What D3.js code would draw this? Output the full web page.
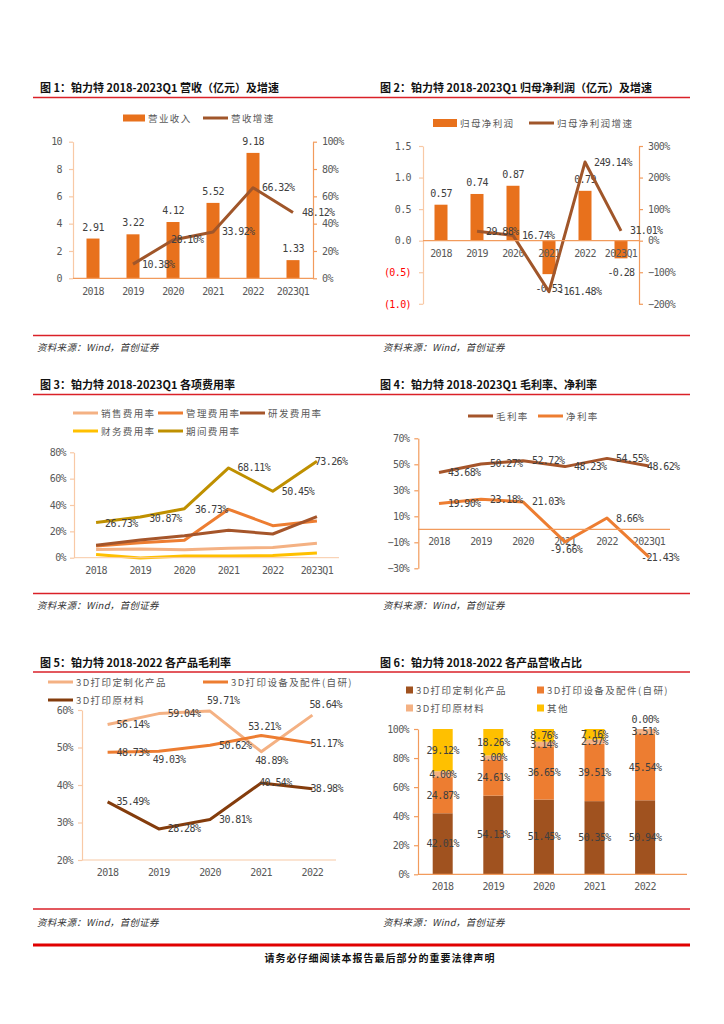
<!DOCTYPE html>
<html><head><meta charset="utf-8">
<script src="https://cdn.jsdelivr.net/npm/d3@7"></script>
<style>body{margin:0;background:#fff}svg{display:block}</style>
</head><body><svg id="page" width="724" height="1024"></svg>
<script>
// ---------- DATA ----------
const years6 = ['2018','2019','2020','2021','2022','2023Q1'];
const years5 = ['2018','2019','2020','2021','2022'];
const revenue = [2.91,3.22,4.12,5.52,9.18,1.33];
const revenueGrowth = [null,10.38,28.10,33.92,66.32,48.12];
const netProfit = [0.57,0.74,0.87,-0.53,0.79,-0.28];
const netProfitGrowth = [null,29.88,16.74,-161.48,249.14,31.01];
const sellingRate = [6.3,6.6,6.1,7.1,7.8,10.9];
const adminRate = [8.8,11.4,13.2,36.73,24.3,27.8];
const rdRate = [9.4,13.4,16.7,20.8,18.0,31.1];
const financeRate = [2.5,-0.3,1.2,1.3,1.6,3.6];
const periodRate = [26.73,30.87,37.2,68.11,50.45,73.26];
const grossMargin = [43.68,50.27,52.72,48.23,54.55,48.62];
const netMargin = [19.90,23.18,21.03,-9.66,8.66,-21.43];
const gmCustom = [56.14,59.04,59.71,48.89,58.64];
const gmEquip = [48.73,49.03,50.62,53.21,51.17];
const gmMaterial = [35.49,28.28,30.81,40.54,38.98];
const shareCustom = [42.01,54.13,51.45,50.35,50.94];
const shareEquip = [24.87,24.61,36.65,39.51,45.54];
const shareMaterial = [4.00,3.00,3.14,2.97,3.51];
const shareOther = [29.12,18.26,8.76,7.16,0.00];
const ticks1L = [0,2,4,6,8,10];
const ticks1R = [0,20,40,60,80,100];
const ticks2L = [-1,-0.5,0,0.5,1,1.5];
const ticks2R = [-200,-100,0,100,200,300];
const ticks3 = [0,20,40,60,80];
const ticks4 = [-30,-10,10,30,50,70];
const ticks5 = [20,30,40,50,60];
const ticks6 = [0,20,40,60,80,100];

// ---------- STYLE ----------
const NUMF = "'DejaVu Sans Mono', monospace";
const CJKF = "'Noto Sans CJK SC', sans-serif";
const RED = '#DA2128';
const C = {bar:'#E8711C', brown:'#A0562A', peach:'#F4B183', orange:'#ED7D31', rd:'#A5552A',
  yellow:'#FFC000', gold:'#BF9000', dark:'#843C0C', axis:'#F29B5C', axisLight:'#F8C9A6', stackDark:'#A0521F'};

const svg = d3.select('#page');
svg.append('rect').attr('width',724).attr('height',1024).attr('fill','#fff');

function numText(g,x,y,s,anchor,color,size){
  return g.append('text').attr('x',x).attr('y',y).attr('text-anchor',anchor||'middle')
    .attr('font-family',NUMF).attr('font-size',size||10).attr('letter-spacing','-0.6')
    .attr('fill',color||'#404040').text(s);
}
function cjkText(g,x,y,s,opts){
  opts=opts||{};
  return g.append('text').attr('x',x).attr('y',y).attr('text-anchor',opts.anchor||'start')
    .attr('font-family',CJKF).attr('font-size',opts.size||9.5)
    .attr('font-weight',opts.weight||'normal').attr('letter-spacing',opts.ls==null?1.4:opts.ls)
    .attr('font-style',opts.style||'normal')
    .attr('fill',opts.color||'#595959').text(s);
}
function hline(x1,x2,y,color,w){svg.append('line').attr('x1',x1).attr('x2',x2).attr('y1',y).attr('y2',y).attr('stroke',color).attr('stroke-width',w);}
function styleAxis(sel,color,labelColor){
  sel.attr('font-family',NUMF).attr('font-size',10);
  sel.select('.domain').attr('stroke',color).attr('stroke-width',1.2);
  sel.selectAll('.tick line').attr('stroke',color).attr('stroke-width',1.2);
  sel.selectAll('.tick text').attr('letter-spacing','-0.6').attr('fill',labelColor||'#595959');
}
const pct0 = d => d3.format('d')(d)+'%';

// ---------- PAGE FRAME ----------
const titles = [
  [40,92,'图 1：铂力特 2018-2023Q1 营收（亿元）及增速'],
  [380,92,'图 2：铂力特 2018-2023Q1 归母净利润（亿元）及增速'],
  [40,389,'图 3：铂力特 2018-2023Q1 各项费用率'],
  [380,389,'图 4：铂力特 2018-2023Q1 毛利率、净利率'],
  [40,667,'图 5：铂力特 2018-2022 各产品毛利率'],
  [380,667,'图 6：铂力特 2018-2022 各产品营收占比']
];
titles.forEach(t=>cjkText(svg,t[0],t[1],t[2],{size:11,weight:'bold',color:'#111',ls:0}));
[97.5,394.5,672].forEach(y=>hline(33,690,y,RED,1.5));
[335.5,593.5,909].forEach(y=>hline(33,690,y,RED,1.5));
[[37,351],[383,351],[37,609],[383,609],[37,926],[383,926]].forEach(p=>
  cjkText(svg,p[0],p[1],'资料来源：Wind，首创证券',{size:9.5,style:'italic',color:'#333',ls:0.3}));
hline(33,690,945,'#E00000',3);
cjkText(svg,380,962,'请务必仔细阅读本报告最后部分的重要法律声明',{size:10,weight:'bold',color:'#111',ls:1,anchor:'middle'});

// label placement helper
function placeLabel(g,px,py,s,code){
  if(!code) return;
  const m = {r:[9,3.5,'start'], o:[-2,3.5,'start'], l:[-1,3.5,'end'], a:[-3,-7,'start'], b:[-6,12,'start'],
             bm:[1,11,'middle'], al:[-13,-5,'start'], ol:[-8,3.5,'start']}[code];
  numText(g,px+m[0],py+m[1],s,m[2]);
}
function drawLine(g,xf,yf,vals,color,w){
  g.append('path').datum(vals.map((v,i)=>[i,v]))
    .attr('d',d3.line().defined(d=>d[1]!=null).x(d=>xf(d[0])).y(d=>yf(d[1])))
    .attr('fill','none').attr('stroke',color).attr('stroke-width',w||3).attr('stroke-linejoin','round');
}
function legendLine(g,x,y,color,label){
  g.append('line').attr('x1',x).attr('x2',x+25).attr('y1',y).attr('y2',y).attr('stroke',color).attr('stroke-width',3);
  cjkText(g,x+28,y+3.5,label);
}
function legendRect(g,x,y,color,label,w,h){
  w=w||22;h=h||7;
  g.append('rect').attr('x',x).attr('y',y-h/2).attr('width',w).attr('height',h).attr('fill',color);
  cjkText(g,x+w+3,y+3.5,label);
}

// ---------- CHART 1 ----------
(function(){
  const g = svg.append('g');
  const x = d3.scaleBand().domain(years6).range([73,313]);
  const cx = i => x(years6[i])+x.bandwidth()/2;
  const yL = d3.scaleLinear().domain([0,10]).range([278.3,141.7]);
  const yR = d3.scaleLinear().domain([0,100]).range([278.3,141.7]);
  legendRect(g,123,118,C.bar,'营业收入');
  legendLine(g,203,118,C.brown,'营收增速');
  g.append('g').attr('transform','translate(73,0)').call(d3.axisLeft(yL).tickValues(ticks1L).tickSize(4).tickSizeOuter(0).tickPadding(7)).call(s=>styleAxis(s,C.axisLight));
  g.append('g').attr('transform','translate(313,0)').call(d3.axisRight(yR).tickValues(ticks1R).tickSize(4).tickSizeOuter(0).tickPadding(5).tickFormat(pct0)).call(s=>styleAxis(s,C.axis));
  g.selectAll('rect.b').data(revenue).join('rect').attr('class','b')
    .attr('x',(d,i)=>cx(i)-6.5).attr('y',d=>yL(d)).attr('width',13).attr('height',d=>yL(0)-yL(d)).attr('fill',C.bar);
  hline(73,313,278.3,C.axis,1.2);
  revenue.forEach((v,i)=>numText(g,cx(i),yL(v)-8,v.toFixed(2)));
  drawLine(g,cx,yR,revenueGrowth,C.brown,3);
  const pl=[null,'r','o','r','r','r'];
  revenueGrowth.forEach((v,i)=>{ if(v!=null) placeLabel(g,cx(i),yR(v),v.toFixed(2)+'%',pl[i]); });
  years6.forEach((c,i)=>numText(g,cx(i),295,c,'middle','#595959'));
})();

// ---------- CHART 2 ----------
(function(){
  const g = svg.append('g');
  const x = d3.scaleBand().domain(years6).range([423,639]);
  const cx = i => x(years6[i])+x.bandwidth()/2;
  const yL = d3.scaleLinear().domain([-1,1.5]).range([303.8,146]);
  const yR = d3.scaleLinear().domain([-200,300]).range([303.8,146]);
  legendRect(g,433,123,C.bar,'归母净利润',24,8);
  legendLine(g,529,123,C.brown,'归母净利润增速');
  const fmtL = d => d<0 ? '('+Math.abs(d).toFixed(1)+')' : d.toFixed(1);
  g.append('g').attr('transform','translate(423,0)').call(d3.axisLeft(yL).tickValues(ticks2L).tickSize(4).tickSizeOuter(0).tickPadding(8).tickFormat(fmtL))
    .call(s=>{styleAxis(s,C.axisLight); s.selectAll('.tick text').attr('fill',d=>d<0?'#FF0000':'#595959');});
  g.append('g').attr('transform','translate(639,0)').call(d3.axisRight(yR).tickValues(ticks2R).tickSize(4).tickSizeOuter(0).tickPadding(5).tickFormat(pct0)).call(s=>styleAxis(s,C.axis));
  g.selectAll('rect.b').data(netProfit).join('rect').attr('class','b')
    .attr('x',(d,i)=>cx(i)-6.5).attr('y',d=>yL(Math.max(0,d))).attr('width',13).attr('height',d=>Math.abs(yL(0)-yL(d))).attr('fill',C.bar);
  hline(423,639,yL(0),C.axis,1.2);
  years6.forEach((c,i)=>numText(g,cx(i),257,c,'middle','#595959'));
  netProfit.forEach((v,i)=>numText(g,cx(i),v>=0?yL(v)-8:yL(v)+18,v.toFixed(2)));
  drawLine(g,cx,yR,netProfitGrowth,C.brown,3);
  netProfitGrowth.forEach((v,i)=>{ if(v!=null) placeLabel(g,cx(i),yR(v),v.toFixed(2)+'%','r'); });
})();

// ---------- CHART 3 ----------
(function(){
  const g = svg.append('g');
  const x = d3.scaleBand().domain(years6).range([74,339]);
  const cx = i => x(years6[i])+x.bandwidth()/2;
  const y = d3.scaleLinear().domain([0,80]).range([557.7,452.3]);
  legendLine(g,73,413,C.peach,'销售费用率');
  legendLine(g,158,413,C.orange,'管理费用率');
  legendLine(g,240,413,C.rd,'研发费用率');
  legendLine(g,73,431,C.yellow,'财务费用率');
  legendLine(g,158,431,C.gold,'期间费用率');
  g.append('g').attr('transform','translate(74,0)').call(d3.axisLeft(y).tickValues(ticks3).tickSize(4).tickSizeOuter(0).tickPadding(4).tickFormat(pct0)).call(s=>styleAxis(s,C.axisLight));
  hline(74,339,557.7,C.axisLight,1);
  drawLine(g,cx,y,sellingRate,C.peach);
  drawLine(g,cx,y,adminRate,C.orange);
  drawLine(g,cx,y,rdRate,C.rd);
  drawLine(g,cx,y,financeRate,C.yellow);
  drawLine(g,cx,y,periodRate,C.gold);
  const plP=['r','r',null,'r','r','o'];
  periodRate.forEach((v,i)=>placeLabel(g,cx(i),y(v)+(i<2?1:0),v.toFixed(2)+'%',plP[i]));
  const plA=[null,null,null,'l',null,null];
  adminRate.forEach((v,i)=>placeLabel(g,cx(i),y(v),v.toFixed(2)+'%',plA[i]));
  years6.forEach((c,i)=>numText(g,cx(i),574,c,'middle','#595959'));
})();

// ---------- CHART 4 ----------
(function(){
  const g = svg.append('g');
  const x = d3.scaleBand().domain(years6).range([418,670]);
  const cx = i => x(years6[i])+x.bandwidth()/2;
  const y = d3.scaleLinear().domain([-30,70]).range([568.3,438.3]);
  legendLine(g,468,416,C.rd,'毛利率');
  legendLine(g,538,416,C.orange,'净利率');
  g.append('g').attr('transform','translate(418.3,0)').call(d3.axisLeft(y).tickValues(ticks4).tickSize(4).tickSizeOuter(0).tickPadding(5).tickFormat(pct0)).call(s=>styleAxis(s,C.axis));
  hline(418,670,y(0),C.axis,1.2);
  years6.forEach((c,i)=>numText(g,cx(i),545,c,'middle','#595959'));
  drawLine(g,cx,y,grossMargin,C.rd);
  drawLine(g,cx,y,netMargin,C.orange);
  const plG=['r','r','r','r','r','o'];
  grossMargin.forEach((v,i)=>placeLabel(g,cx(i),y(v),v.toFixed(2)+'%',plG[i]));
  const plN=['r','r','r','bm','r','ol'];
  netMargin.forEach((v,i)=>placeLabel(g,cx(i),y(v),v.toFixed(2)+'%',plN[i]));
})();

// ---------- CHART 5 ----------
(function(){
  const g = svg.append('g');
  const x = d3.scaleBand().domain(years5).range([82,338]);
  const cx = i => x(years5[i])+x.bandwidth()/2;
  const y = d3.scaleLinear().domain([20,60]).range([860,710]);
  legendLine(g,48,682,C.peach,'3D打印定制化产品');
  legendLine(g,203,682,C.orange,'3D打印设备及配件(自研)');
  legendLine(g,48,700,C.dark,'3D打印原材料');
  g.append('g').attr('transform','translate(82,0)').call(d3.axisLeft(y).tickValues(ticks5).tickSize(4).tickSizeOuter(0).tickPadding(5).tickFormat(pct0)).call(s=>styleAxis(s,C.axisLight));
  hline(82,336,860,C.axisLight,1.2);
  years5.forEach((c,i)=>numText(g,cx(i),876,c,'middle','#595959'));
  drawLine(g,cx,y,gmCustom,C.peach);
  drawLine(g,cx,y,gmEquip,C.orange);
  drawLine(g,cx,y,gmMaterial,C.dark);
  const pc=['r','r','a','b','a'], pe=['r','b','r','al','o'], pm=['r','r','r','o','o'];
  gmCustom.forEach((v,i)=>placeLabel(g,cx(i),y(v),v.toFixed(2)+'%',pc[i]));
  gmEquip.forEach((v,i)=>placeLabel(g,cx(i),y(v),v.toFixed(2)+'%',pe[i]));
  gmMaterial.forEach((v,i)=>placeLabel(g,cx(i),y(v),v.toFixed(2)+'%',pm[i]));
})();

// ---------- CHART 6 ----------
(function(){
  const g = svg.append('g');
  const x = d3.scaleBand().domain(years5).range([417.4,670.4]);
  const cx = i => x(years5[i])+x.bandwidth()/2;
  const y = d3.scaleLinear().domain([0,100]).range([874.3,729]);
  const keys = ['custom','equip','material','other'];
  const colors = {custom:C.stackDark, equip:C.orange, material:C.peach, other:C.yellow};
  const rows = years5.map((yr,i)=>({year:yr, custom:shareCustom[i], equip:shareEquip[i], material:shareMaterial[i], other:shareOther[i]}));
  const stacked = d3.stack().keys(keys)(rows);
  const lg = [[406,690,'custom','3D打印定制化产品'],[537,690,'equip','3D打印设备及配件(自研)'],[406,708,'material','3D打印原材料'],[537,708,'other','其他']];
  lg.forEach(l=>{ g.append('rect').attr('x',l[0]).attr('y',l[1]-3.5).attr('width',7).attr('height',7).attr('fill',colors[l[2]]); cjkText(g,l[0]+10,l[1]+3.5,l[3]); });
  g.append('g').attr('transform','translate(418,0)').call(d3.axisLeft(y).tickValues(ticks6).tickSize(4).tickSizeOuter(0).tickPadding(5).tickFormat(pct0)).call(s=>styleAxis(s,C.axis));
  stacked.forEach(layer=>{
    g.selectAll(null).data(layer).join('rect')
      .attr('x',(d,i)=>cx(i)-10).attr('y',d=>y(d[1])).attr('width',20).attr('height',d=>Math.max(0,y(d[0])-y(d[1])))
      .attr('fill',colors[layer.key]);
  });
  hline(418,687,874.3,C.axis,1.2);
  stacked.forEach(layer=>{
    layer.forEach((d,i)=>{
      const v = d[1]-d[0];
      const val = rows[i][layer.key];
      const yy = v<0.5 ? y(d[1])-6 : (y(d[0])+y(d[1]))/2+3.5;
      numText(g,cx(i),yy,val.toFixed(2)+'%');
    });
  });
  years5.forEach((c,i)=>numText(g,cx(i),890,c,'middle','#595959'));
})();
</script></body></html>
